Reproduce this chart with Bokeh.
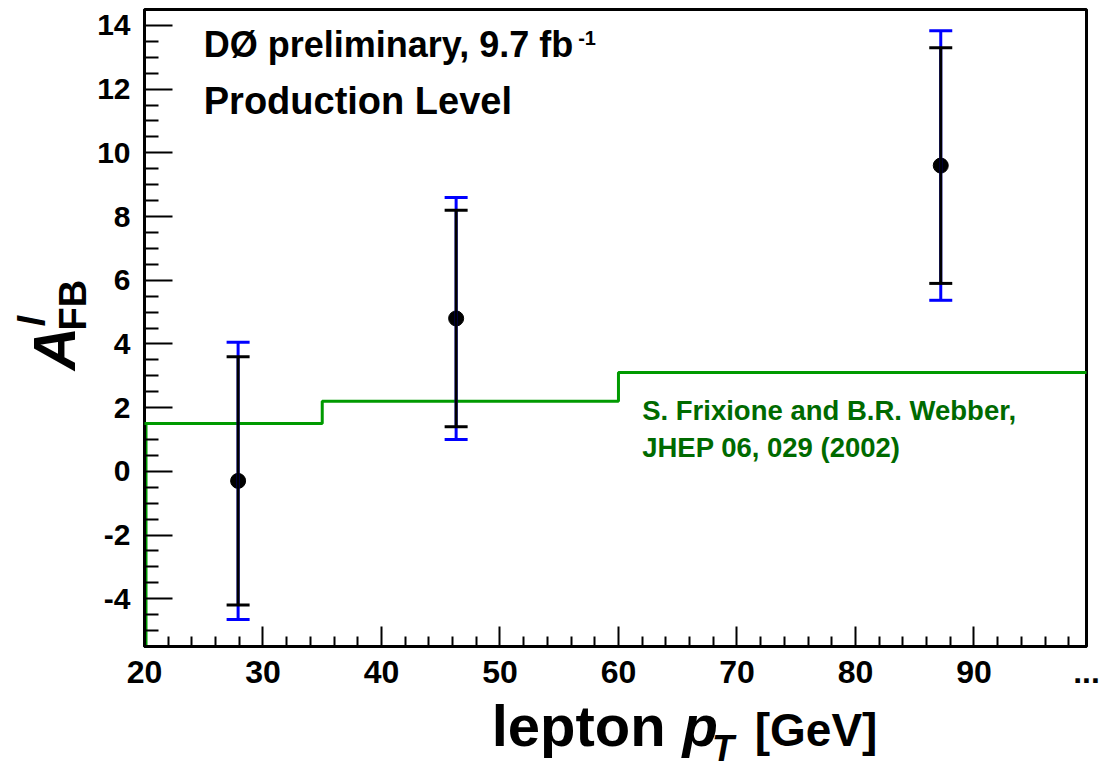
import numpy as np
from bokeh.plotting import figure
from bokeh.models import ColumnDataSource, FixedTicker, Label, Whisker, TeeHead, Range1d
from bokeh.core.properties import value
from bokeh.embed import file_html
from bokeh.resources import INLINE

# Measured forward-backward asymmetry of leptons (in %) vs lepton pT
pt_mean = [27.9, 46.3, 87.2]
afb_data = [-0.3, 4.8, 9.6]
err_stat = [3.9, 3.4, 3.7]
err_total = [4.35, 3.8, 4.23]

# NLO prediction (Frixione & Webber), binned in lepton pT
theory_edges = [20, 35, 60, 99.5]
theory_afb = [1.5, 2.2, 3.1]

# Axis ticks
x_ticks = [20, 30, 40, 50, 60, 70, 80, 90, 99.5]
x_tick_labels = ["20", "30", "40", "50", "60", "70", "80", "90", "..."]
y_ticks = [-4, -2, 0, 2, 4, 6, 8, 10, 12, 14]
y_tick_labels = ["-4", "-2", "0", "2", "4", "6", "8", "10", "12", "14"]

X_LO, X_HI = 20, 99.5
Y_LO, Y_HI = -5.5, 14.5

FONT = "Liberation Sans"
GREEN_LINE = "#009a00"
GREEN_TEXT = "#006a00"

p = figure(width=1107, height=770, output_backend="svg", toolbar_location=None,
           x_range=Range1d(X_LO, X_HI), y_range=Range1d(Y_LO, Y_HI),
           min_border_left=144, min_border_right=21, min_border_top=9, min_border_bottom=124)
p.grid.visible = False
p.background_fill_color = "white"
p.border_fill_color = "white"
p.outline_line_color = "black"
p.outline_line_width = 3

# axes
p.xaxis.ticker = FixedTicker(ticks=x_ticks,
                             minor_ticks=[t for t in np.arange(20, 100, 2.0) if t % 10 != 0])
p.xaxis.major_label_overrides = {t: s for t, s in zip(x_ticks, x_tick_labels)}
p.yaxis.ticker = FixedTicker(ticks=y_ticks,
                             minor_ticks=[t for t in np.arange(-5.5, 14.51, 0.5) if t % 2 != 0])
p.yaxis.major_label_overrides = {t: s for t, s in zip(y_ticks, y_tick_labels)}
for ax, major_len, font_px in ((p.xaxis, 20, "32px"), (p.yaxis, 28, "30px")):
    ax.axis_line_width = 3
    ax.axis_line_color = "black"
    ax.major_tick_in = major_len
    ax.major_tick_out = 0
    ax.minor_tick_in = major_len // 2
    ax.minor_tick_out = 0
    ax.major_tick_line_width = 2
    ax.minor_tick_line_width = 2
    ax.major_tick_line_color = "black"
    ax.minor_tick_line_color = "black"
    ax.major_label_text_font = FONT
    ax.major_label_text_font_style = "bold"
    ax.major_label_text_font_size = font_px
    ax.major_label_text_color = "black"
p.xaxis.major_label_standoff = 14
p.yaxis.major_label_standoff = 14

# theory histogram: left edge of the first bin runs down to the lower edge
p.line([theory_edges[0], theory_edges[0]], [Y_LO, theory_afb[0]],
       line_color=GREEN_LINE, line_width=6)
step_x, step_y = [], []
for i, v in enumerate(theory_afb):
    step_x += [theory_edges[i], theory_edges[i + 1]]
    step_y += [v, v]
step = p.line(step_x, step_y, line_color=GREEN_LINE, line_width=3)
step.level = "overlay"  # drawn over the tick marks

# data with total (blue) and statistical (black) uncertainties
src = ColumnDataSource(dict(
    x=pt_mean, y=afb_data,
    tot_lo=[a - e for a, e in zip(afb_data, err_total)],
    tot_hi=[a + e for a, e in zip(afb_data, err_total)],
    stat_lo=[a - e for a, e in zip(afb_data, err_stat)],
    stat_hi=[a + e for a, e in zip(afb_data, err_stat)],
))
for lo, hi, col in (("tot_lo", "tot_hi", "#0000ff"), ("stat_lo", "stat_hi", "black")):
    w = Whisker(source=src, base="x", lower=lo, upper=hi, dimension="height",
                line_color=col, line_width=3, level="overlay",
                upper_head=TeeHead(size=23, line_color=col, line_width=3),
                lower_head=TeeHead(size=23, line_color=col, line_width=3))
    p.add_layout(w)
pts = p.scatter("x", "y", source=src, size=15, color="black")
pts.level = "overlay"


def label(x, y, text, size, color="black", style="bold"):
    p.add_layout(Label(x=x, y=y, text=text, text_font=FONT, text_font_size=size,
                       text_font_style=style, text_color=color,
                       text_align="left", text_baseline="alphabetic"))


def outer_text(x, y, text, size, style="bold", angle=0.0):
    # drawn above the frame clip so that axis titles can sit in the borders
    r = p.text(x=[x], y=[y], text=[text], text_font=value(FONT), text_font_size=size,
               text_font_style=style, text_color="black", angle=angle,
               text_align="left", text_baseline="alphabetic")
    r.level = "overlay"


# header
label(25.0, 13.40, "DØ preliminary, 9.7 fb", "36px")
label(56.6, 13.59, "-1", "20px")
label(25.0, 11.64, "Production Level", "38px")

# theory reference
label(62.0, 1.91, "S. Frixione and B.R. Webber,", "27.5px", color=GREEN_TEXT)
label(62.0, 0.76, "JHEP 06, 029 (2002)", "27.5px", color=GREEN_TEXT)

# x-axis title
outer_text(49.3, -7.97, "lepton", "58px")
outer_text(65.4, -7.97, "p", "58px", style="bold italic")
outer_text(67.9, -8.70, "T", "36px", style="bold italic")
outer_text(71.5, -8.12, "[GeV]", "46px")

# y-axis title (rotated)
outer_text(12.4, 3.17, "A", "60px", style="bold italic", angle=np.pi / 2)
outer_text(14.0, 4.42, "FB", "38px", angle=np.pi / 2)
outer_text(10.52, 4.55, "l", "38px", style="bold italic", angle=np.pi / 2)

open("out.html", "w").write(file_html(p, INLINE))
